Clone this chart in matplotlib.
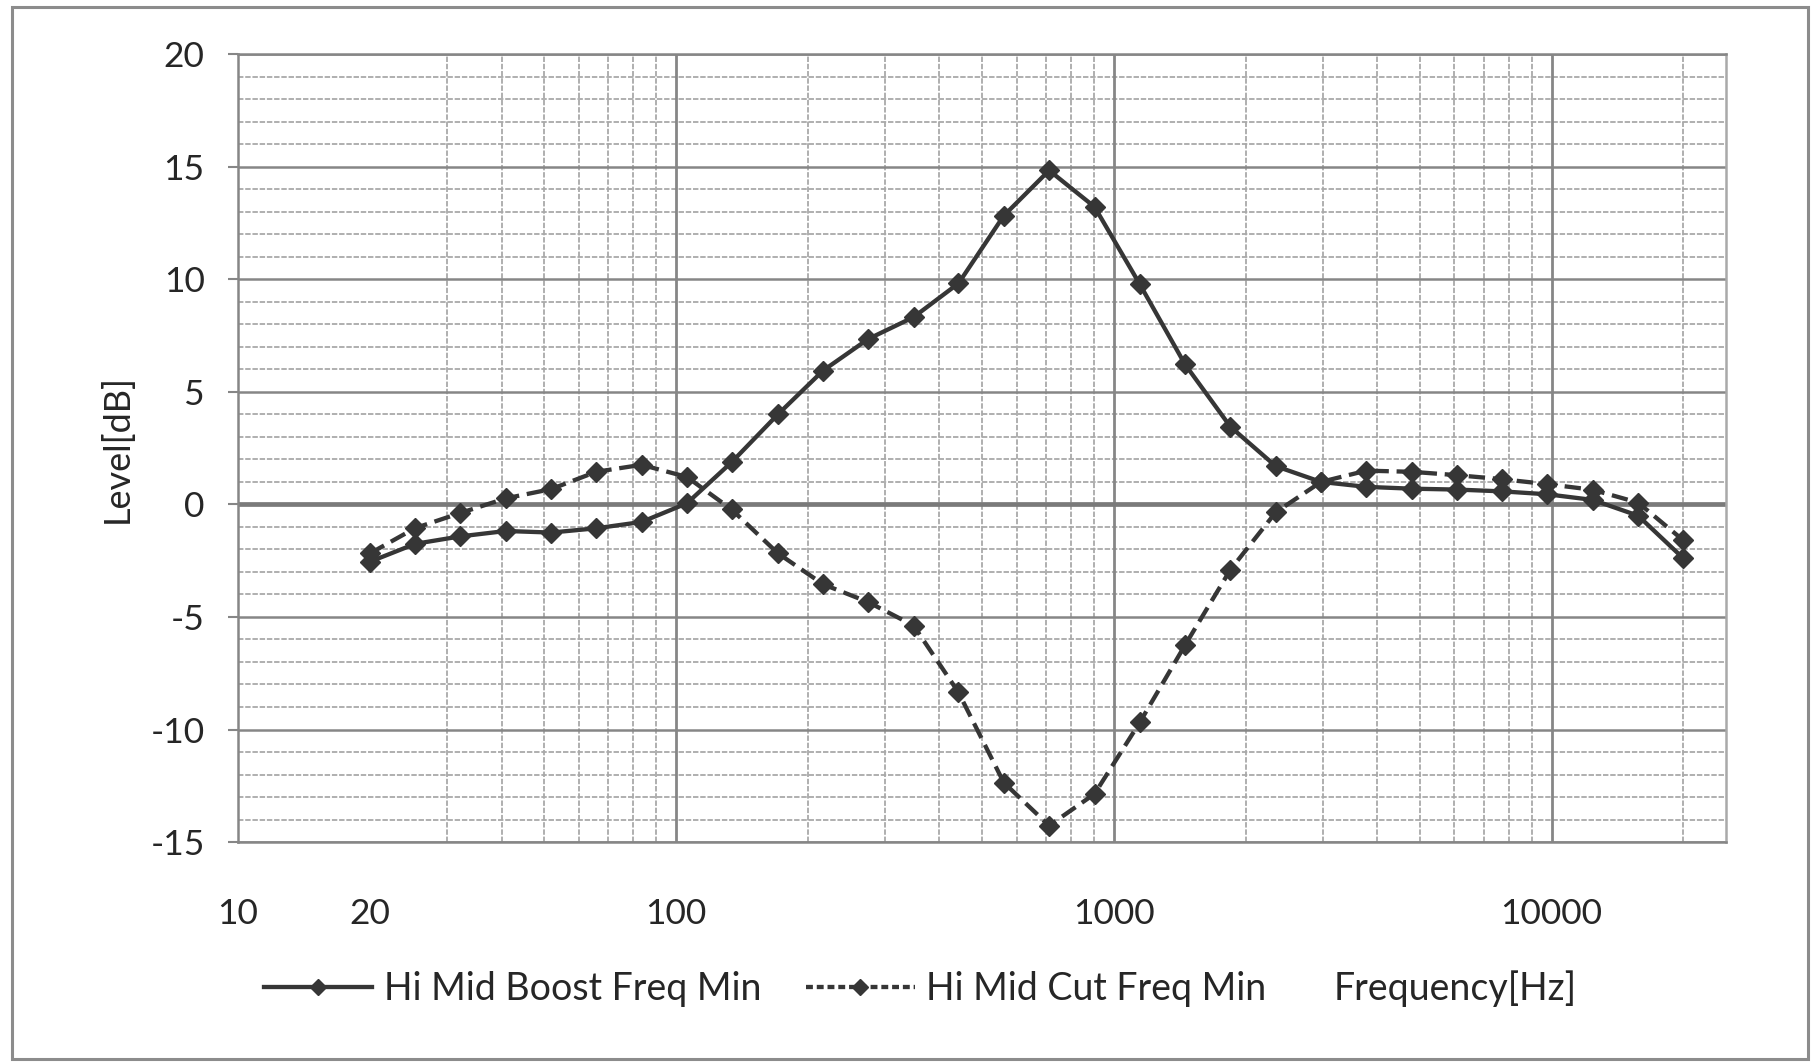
import matplotlib

matplotlib.use("Agg")
import matplotlib.pyplot as plt
from matplotlib.lines import Line2D
from matplotlib.patches import Rectangle
from matplotlib.ticker import FixedLocator, LogLocator, MultipleLocator, NullFormatter

plt.rcParams["font.family"] = ["Lato", "DejaVu Sans"]
plt.rcParams["axes.unicode_minus"] = False

# measurement frequencies (Hz), 30 log-spaced points 20 Hz .. 20 kHz
freq = [20, 25.4, 32.2, 40.9, 51.9, 65.8, 83.5, 106, 134, 171,
        217, 275, 349, 442, 561, 712, 904, 1147, 1455, 1847,
        2344, 2974, 3774, 4789, 6077, 7711, 9785, 12417, 15757, 20000]

boost = [-2.55, -1.75, -1.42, -1.18, -1.25, -1.06, -0.78, 0.05, 1.87, 4.0,
         5.95, 7.35, 8.32, 9.82, 12.83, 14.84, 13.22, 9.78, 6.22, 3.45,
         1.7, 1.0, 0.78, 0.7, 0.66, 0.58, 0.45, 0.2, -0.5, -2.4]

cut = [-2.18, -1.05, -0.38, 0.27, 0.68, 1.45, 1.76, 1.22, -0.22, -2.17,
       -3.55, -4.34, -5.38, -8.35, -12.36, -14.27, -12.86, -9.68, -6.25, -2.9,
       -0.35, 1.0, 1.5, 1.45, 1.3, 1.12, 0.9, 0.65, 0.08, -1.6]

series_names = ["Hi Mid Boost Freq Min", "Hi Mid Cut Freq Min"]
x_tick_values = [10, 20, 100, 1000, 10000]
x_tick_labels = ["10", "20", "100", "1000", "10000"]

LINE = "#363636"
GRID_MAJOR = "#868686"
GRID_MINOR = "#a9a9a9"
TEXT = "#262626"

fig = plt.figure(figsize=(18.11, 10.64), dpi=100)
ax = fig.add_axes([0.1314, 0.2086, 0.953 - 0.1314, 0.949 - 0.2086])

ax.set_xscale("log")
ax.set_xlim(10, 25000)
ax.set_ylim(-15, 20)

ax.xaxis.set_major_locator(FixedLocator(x_tick_values))
ax.set_xticklabels(x_tick_labels)
ax.xaxis.set_minor_locator(LogLocator(base=10, subs=range(2, 10)))
ax.xaxis.set_minor_formatter(NullFormatter())
ax.yaxis.set_major_locator(MultipleLocator(5))
ax.yaxis.set_minor_locator(MultipleLocator(1))

ax.grid(which="minor", axis="both", color=GRID_MINOR, lw=1.3, ls=(0, (3, 1)))
ax.grid(which="major", axis="y", color=GRID_MAJOR, lw=1.8)
for d in [100, 1000, 10000]:
    ax.axvline(d, color=GRID_MAJOR, lw=2.0, zorder=0.6)
ax.axhline(0, color="#7a7a7a", lw=3.4, zorder=1)
ax.set_axisbelow(True)

for s in ax.spines.values():
    s.set_color(GRID_MAJOR)
    s.set_linewidth(1.8)
ax.spines["right"].set_color(GRID_MINOR)

ax.tick_params(axis="y", which="major", length=7, width=1.5, color=GRID_MAJOR,
               pad=17, labelsize=25.5, labelcolor=TEXT)
ax.tick_params(axis="y", which="minor", length=0)
ax.tick_params(axis="x", which="both", length=0, pad=40, labelsize=25.5,
               labelcolor=TEXT)

ax.plot(freq, boost, color=LINE, lw=3.1, marker="D", ms=10, mfc=LINE, mec=LINE,
        zorder=4, label=series_names[0])
ax.plot(freq, cut, color=LINE, lw=3.1, marker="D", ms=10, mfc=LINE, mec=LINE,
        dashes=(3.8, 1.8), zorder=4, label=series_names[1])

ax.set_ylabel("Level[dB]", fontsize=26, color=TEXT, labelpad=12)

handles = [
    Line2D([], [], color=LINE, lw=3.1, marker="D", ms=8),
    Line2D([], [], color=LINE, lw=3.1, marker="D", ms=8, dashes=(1.6, 0.9)),
]
fig.legend(handles, series_names, loc="center", bbox_to_anchor=(0.4224, 0.0705),
           ncol=2, frameon=False, fontsize=27, handlelength=2.9,
           handletextpad=0.3, columnspacing=1.2, labelcolor=TEXT)
fig.text(0.7365, 0.0705, "Frequency[Hz]", fontsize=27, color=TEXT,
         ha="left", va="center")

fig.patches.append(Rectangle((0.0066, 0.0047), 0.9917, 0.9887,
                             transform=fig.transFigure, fill=False,
                             edgecolor="#8c8c8c", lw=2.2))

fig.savefig("out.png", dpi=100)
